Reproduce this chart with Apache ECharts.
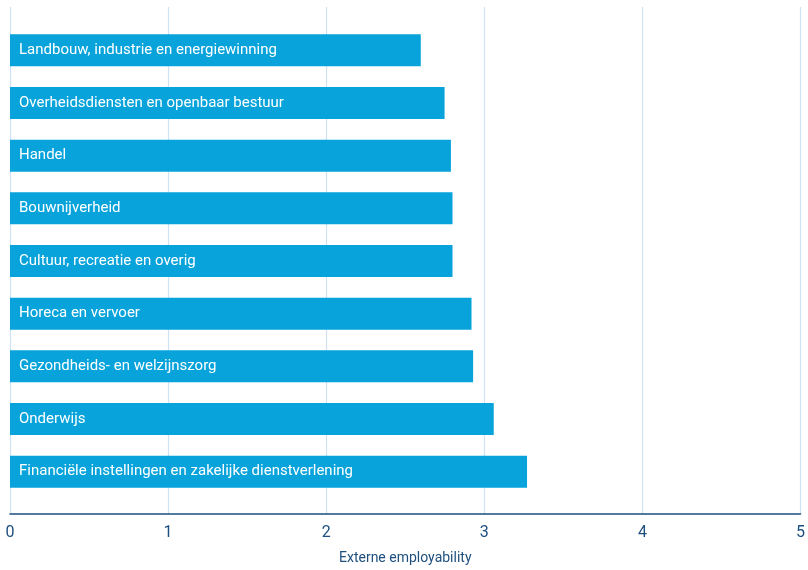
<!DOCTYPE html>
<html>
<head>
<meta charset="utf-8">
<script src="https://cdn.jsdelivr.net/npm/echarts@6/dist/echarts.min.js"></script>
<style>html,body{margin:0;padding:0;background:#fff}#c{width:808px;height:570px}</style>
</head>
<body>
<div id="c"></div>
<script>
const categories = [
  "Landbouw, industrie en energiewinning",
  "Overheidsdiensten en openbaar bestuur",
  "Handel",
  "Bouwnijverheid",
  "Cultuur, recreatie en overig",
  "Horeca en vervoer",
  "Gezondheids- en welzijnszorg",
  "Onderwijs",
  "Financiële instellingen en zakelijke dienstverlening"
];
const values = [2.59, 2.74, 2.78, 2.79, 2.79, 2.91, 2.92, 3.05, 3.26];
const xTicks = [0, 1, 2, 3, 4, 5];
const axisTitle = "Externe employability";

const FONT = "Roboto, sans-serif";
const NAVY = "#1d4f7f";
const chart = echarts.init(document.getElementById('c'), null, {renderer: 'canvas'});
chart.setOption({
  animation: false,
  grid: [
    {left: 10, right: 5, top: 24, bottom: 72},
    {left: 10, right: 5, top: 7, bottom: 56}
  ],
  xAxis: [
    {gridIndex: 0, type: 'value', min: xTicks[0], max: xTicks[xTicks.length-1], interval: 1,
     show: false},
    {gridIndex: 1, type: 'value', min: xTicks[0], max: xTicks[xTicks.length-1], interval: 1,
     axisLine: {show: true, lineStyle: {color: NAVY, width: 1.5}},
     axisTick: {show: false},
     splitLine: {show: true, lineStyle: {color: '#cfe2f3', width: 1.2}},
     axisLabel: {color: NAVY, fontFamily: FONT, fontSize: 16, margin: 11,
                 formatter: v => xTicks.includes(v) ? String(v) : ''},
     name: axisTitle, nameLocation: 'middle', nameGap: 37,
     nameTextStyle: {color: NAVY, fontFamily: FONT, fontSize: 14}}
  ],
  yAxis: [
    {gridIndex: 0, type: 'category', data: categories, inverse: true, show: false},
    {gridIndex: 1, type: 'category', data: [''], show: false}
  ],
  series: [{
    type: 'bar', xAxisIndex: 0, yAxisIndex: 0,
    data: values,
    barWidth: 32,
    itemStyle: {color: '#07a3da'},
    label: {show: true, position: 'insideLeft', distance: 9,
            formatter: p => p.name,
            color: '#ffffff', fontFamily: FONT, fontSize: 15}
  }]
});
</script>
</body>
</html>
